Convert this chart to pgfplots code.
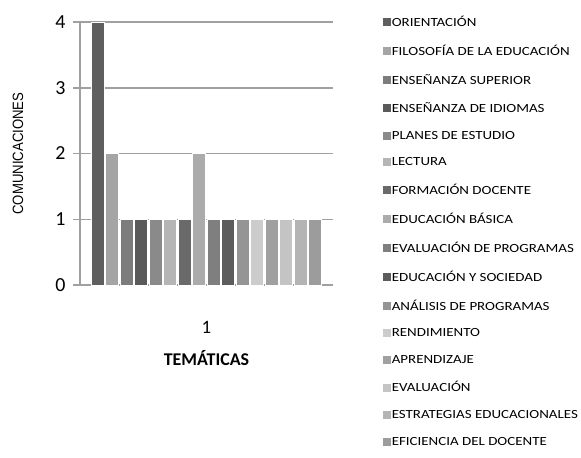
\documentclass[border=0pt]{standalone}
\usepackage{pgfplots}
\pgfplotsset{compat=1.18}
\usepackage{fontspec}
\setmainfont{Carlito}
\newfontfamily\legfont[FakeStretch=1.2]{Carlito}
\newfontfamily\arialn[FakeStretch=0.88]{Liberation Sans}

\definecolor{c1}{HTML}{5F5F5F}
\definecolor{c2}{HTML}{A5A5A5}
\definecolor{c3}{HTML}{7C7C7C}
\definecolor{c4}{HTML}{5A5A5A}
\definecolor{c5}{HTML}{8A8A8A}
\definecolor{c6}{HTML}{B5B5B5}
\definecolor{c7}{HTML}{6A6A6A}
\definecolor{c8}{HTML}{ABABAB}
\definecolor{c9}{HTML}{7F7F7F}
\definecolor{c10}{HTML}{5C5C5C}
\definecolor{c11}{HTML}{959595}
\definecolor{c12}{HTML}{CCCCCC}
\definecolor{c13}{HTML}{A0A0A0}
\definecolor{c14}{HTML}{C4C4C4}
\definecolor{c15}{HTML}{B4B4B4}
\definecolor{c16}{HTML}{9C9C9C}
\definecolor{gridgray}{HTML}{A0A0A0}

\begin{document}
\begin{tikzpicture}
\begin{axis}[
  scale only axis,
  width=253bp, height=263bp,
  ybar=1.5bp, bar width=13bp,
  xmin=0.5, xmax=1.5,
  ymin=0, ymax=4,
  xtick={1}, xticklabels={1},
  ytick={0,1,2,3,4},
  axis x line*=bottom,
  axis y line*=left,
  axis line style={-, draw=gridgray, line width=1.5bp},
  ymajorgrids,
  major grid style={draw=gridgray, line width=1.5bp},
  tick align=center, major tick length=14bp,
  ytick style={draw=gridgray, line width=1.5bp},
  xtick style={draw=none},
  /pgf/number format/assume math mode=true,
  yticklabel style={font=\fontsize{20}{20}\selectfont, xshift=-4bp},
  xticklabel style={font=\fontsize{19}{19}\selectfont, anchor=center, yshift=-35bp},
  xlabel={\textbf{TEMÁTICAS}},
  xlabel style={font=\fontsize{18}{18}\selectfont, at={(axis description cs:0.5,0)}, anchor=center, yshift=-73bp},
  ylabel={COMUNICACIONES},
  ylabel style={font=\arialn\fontsize{15}{15}\selectfont, at={(axis description cs:0,0.5)}, anchor=center, yshift=62bp},
  every axis plot/.append style={draw=white, line width=0.8bp},
  legend image code/.code={\fill[#1,draw=none] (0bp,-4bp) rectangle (8bp,4bp);},
  legend cell align=left,
  legend style={at={(axis description cs:1.198,1.03)}, anchor=north west,
    draw=none, fill=none, inner sep=0pt, row sep=13bp,
    font=\legfont\fontsize{12.5}{12.5}\selectfont,
    nodes={inner xsep=0.5bp, inner ysep=2bp},
    /tikz/every even column/.append style={column sep=0bp}},
]
\addplot[fill=c1] coordinates {(1,4)};
\addplot[fill=c2] coordinates {(1,2)};
\addplot[fill=c3] coordinates {(1,1)};
\addplot[fill=c4] coordinates {(1,1)};
\addplot[fill=c5] coordinates {(1,1)};
\addplot[fill=c6] coordinates {(1,1)};
\addplot[fill=c7] coordinates {(1,1)};
\addplot[fill=c8] coordinates {(1,2)};
\addplot[fill=c9] coordinates {(1,1)};
\addplot[fill=c10] coordinates {(1,1)};
\addplot[fill=c11] coordinates {(1,1)};
\addplot[fill=c12] coordinates {(1,1)};
\addplot[fill=c13] coordinates {(1,1)};
\addplot[fill=c14] coordinates {(1,1)};
\addplot[fill=c15] coordinates {(1,1)};
\addplot[fill=c16] coordinates {(1,1)};
\legend{ORIENTACIÓN, FILOSOFÍA DE LA EDUCACIÓN, ENSEÑANZA SUPERIOR, ENSEÑANZA DE IDIOMAS, PLANES DE ESTUDIO, LECTURA, FORMACIÓN DOCENTE, EDUCACIÓN BÁSICA, EVALUACIÓN DE PROGRAMAS, EDUCACIÓN Y SOCIEDAD, ANÁLISIS DE PROGRAMAS, RENDIMIENTO, APRENDIZAJE, EVALUACIÓN, ESTRATEGIAS EDUCACIONALES, EFICIENCIA DEL DOCENTE}
\end{axis}
\path (current axis.south west) ++(-80bp,-173bp) rectangle ++(581bp,458bp);
\end{tikzpicture}
\end{document}
